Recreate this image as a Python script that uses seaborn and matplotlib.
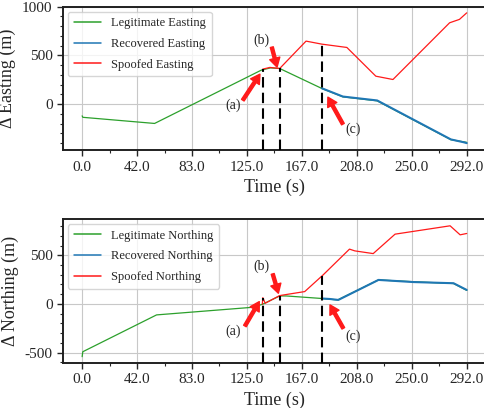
import numpy as np
import pandas as pd
import seaborn as sns
from matplotlib import pyplot as plt
from matplotlib.ticker import AutoMinorLocator

# Easting (m) vs time (s)
east_legit_t = [0, 0.5, 55, 136, 143, 150, 182, 198, 224, 280, 292]
east_legit_v = [-120, -135, -198, 349, 372, 366, 161, 75, 34, -365, -392]
east_recov_t = [182, 198, 224, 280, 290, 292]
east_recov_v = [163, 78, 38, -362, -392, -400]
east_spoof_t = [137, 142.5, 150, 170, 182, 201, 223, 236, 279, 286.5, 292]
east_spoof_v = [359, 377, 366, 647, 616, 582, 287, 253, 835, 870, 937]

# Northing (m) vs time (s)
north_legit_t = [0, 0.5, 56.5, 130, 137, 150, 155, 183, 194, 225, 252, 282, 292]
north_legit_v = [-543, -492, -113, -34, -3, 82, 82, 55, 41, 247, 228, 210, 140]
north_recov_t = [183, 188, 194.5, 225, 251.6, 282, 292]
north_recov_v = [55, 51, 41, 247, 225, 213, 144]
north_spoof_t = [136.8, 137.2, 139, 150, 169, 183, 203, 207, 221, 237.6, 279.4, 287, 292]
north_spoof_v = [-3, 65, 7, 86, 127, 299, 564, 546, 518, 718, 804, 711, 725]

attack_times = [137.3, 150.2, 182.1]
xticks = np.linspace(0, 292, 8)
xtick_labels = ['0.0', '42.0', '83.0', '125.0', '167.0', '208.0', '250.0', '292.0']

sns.set_style("white")
plt.rcParams['font.family'] = ['Liberation Serif', 'DejaVu Serif']
plt.rcParams['axes.unicode_minus'] = False

fig = plt.figure(figsize=(4.84, 4.08), dpi=100)
ax1 = fig.add_axes([0.130, 0.632, 0.874, 0.352])
ax2 = fig.add_axes([0.130, 0.111, 0.874, 0.352])

green = '#2ca02c'
blue = '#1f77b4'
red = '#ff1a1a'


def draw_panel(ax, lt, lv, rt, rv, st, sv, name, ylim, yticks, arrows):
    sns.lineplot(x=lt, y=lv, ax=ax, color=green, lw=0.9, label='Legitimate ' + name)
    sns.lineplot(x=rt, y=rv, ax=ax, color=blue, lw=1.5, label='Recovered ' + name)
    sns.lineplot(x=st, y=sv, ax=ax, color=red, lw=0.9, label='Spoofed ' + name)
    ax.set_xlim(-14.6, 306.6)
    ax.set_ylim(*ylim)
    # dashed markers from bottom up to the spoofed track
    for t in attack_times:
        top = np.interp(t, st, sv) if t >= st[0] else np.interp(t, lt, lv)
        ax.vlines(t, ylim[0], top, colors='black', linestyles=(0, (5, 2.5)), lw=1.5, zorder=4)
    for lab, head, tail, txt in arrows:
        ax.annotate('', xy=head, xytext=tail,
                    arrowprops=dict(facecolor=red, edgecolor=red, width=2.2,
                                    headwidth=7.5, headlength=6.5, shrink=0))
        ax.text(txt[0], txt[1], lab, fontsize=10, ha='center', va='center')
    ax.set_xticks(xticks)
    ax.set_xticklabels(xtick_labels)
    ax.set_yticks(yticks)
    ax.xaxis.set_minor_locator(AutoMinorLocator(2))
    ax.yaxis.set_minor_locator(AutoMinorLocator(5))
    ax.tick_params(which='major', direction='out', length=4, width=1, labelsize=11,
                   bottom=True, left=True)
    ax.tick_params(which='minor', direction='out', length=2, width=0.8,
                   bottom=True, left=True)
    ax.grid(True, color='#c8c8c8', lw=0.8)
    for s in ax.spines.values():
        s.set_color('#202020')
        s.set_linewidth(1.4)
    ax.set_xlabel('Time (s)', fontsize=13)
    ax.set_ylabel('\u0394 ' + name + ' (m)', fontsize=13)
    leg = ax.legend(loc='upper left', fontsize=9, handlelength=2.2, handletextpad=0.8,
                    borderpad=0.45, labelspacing=0.7, borderaxespad=0.4)
    for h in leg.get_lines():
        h.set_linewidth(1.1)


draw_panel(ax1, east_legit_t, east_legit_v, east_recov_t, east_recov_v,
           east_spoof_t, east_spoof_v, 'Easting', (-472, 1002), [0, 500, 1000],
           [('(a)', (135, 308), (122, 41), (114.5, -10)),
            ('(b)', (148, 380), (144, 585), (136.5, 657)),
            ('(c)', (186.6, 72), (198, -205), (205.6, -257))])

draw_panel(ax2, north_legit_t, north_legit_v, north_recov_t, north_recov_v,
           north_spoof_t, north_spoof_v, 'Northing', (-605, 873), [-500, 0, 500],
           [('(a)', (134.5, 24), (123.6, -227), (114.8, -285)),
            ('(b)', (149, 110), (144.7, 309), (136.3, 385)),
            ('(c)', (188.2, -10), (198.3, -251), (205.9, -337))])

fig.savefig('out.png', dpi=100)
